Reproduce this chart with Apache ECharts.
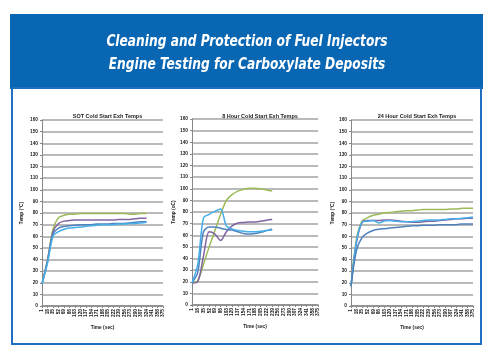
<!DOCTYPE html>
<html><head><meta charset="utf-8">
<script src="https://cdn.jsdelivr.net/npm/echarts@6/dist/echarts.min.js"></script>
<style>html,body{margin:0;padding:0;background:#fff}#c{width:500px;height:361px}</style>
</head><body><div id="c"></div>
<script>
// ---- data ----
const headerTitle1 = 'Cleaning and Protection of Fuel Injectors';
const headerTitle2 = 'Engine Testing for Carboxylate Deposits';
const chartTitles = ['SOT Cold Start Exh Temps', '8 Hour Cold Start Exh Temps', '24 Hour Cold Start Exh Temps'];
const yNames = ['Temp (°C)', 'Temp (oC)', 'Temp (°C)'];
const xName = 'Time (sec)';
const timeLabels = ['1','18','35','52','69','86','103','120','137','154','171','188','205','222','239','256','273','290','307','324','341','358','375'];
const yTicks = [0,10,20,30,40,50,60,70,80,90,100,110,120,130,140,150,160];

// SOT
const sotGreen  = [19,40,66,76,78,79,79,79.5,79.5,79.5,79.5,79.5,79.5,79.5,79.5,79.5,79,79,79.5,79.5];
const sotPurple = [19,39,64,71,73,73.5,74,74,74,74,74,74,74,74,74.5,74.5,74.5,75,75.5,75.5];
const sotBlue   = [19,38,62,67,68.5,69,69.5,70,70,70,70.5,70.5,70.5,71,71,71,71.5,72,72.5,72.5];
const sotSky    = [19,37,60,64,66,67,67.5,68,68.5,69,69.5,70,70,70,70.5,70.5,71,71,71.5,72];
// 8 hour
const h8Green  = [19,21,35,50,64,78,90,95,98,99.5,100.5,100.5,100,99,98];
const h8Purple = [19,20,42,63,61,55.5,63,68,70.5,71,71.5,71.5,72,73,73.5];
const h8Blue   = [19,28,63,67,67,66,65,64.5,63,61.5,61,61.5,62.5,64,65.5];
const h8Sky    = [19,35,75,78,80.5,82.5,68,65.5,64,63.5,63,63,63.5,64,64.5];
// 24 hour
const h24Green  = [17,58,73,76,78,79,80,80.5,81,81.5,82,82,82.5,83,83,83,83,83,83.5,83.5,84,84,84];
const h24Purple = [17,55,72,73.5,73.5,73.5,74,74,73.5,73,72.5,72,72,72.5,73,73,73.5,74,74.5,75,75,75.5,75.5];
const h24Sky    = [17,56,72,73,73.5,71.5,73,73.5,73,72.5,72.5,72.5,73,73.5,74,74,74,74.5,75,75,75.5,76,76.5];
const h24Blue   = [17,48,59,63,65,66,66.5,67,67.5,68,68.5,69,69,69.5,69.5,69.5,70,70,70,70,70.5,70.5,70.5];

const colors = {green:'#9BBB59', purple:'#8064A2', blue:'#4F81BD', sky:'#45AEE8'};

const grids = [
  {left:42, width:121, top:120, height:186},
  {left:192, width:126, top:119, height:186},
  {left:351, width:122, top:120, height:186}
];
const yNameGaps = [18, 14, 12];
const chartData = [
  [sotGreen, sotPurple, sotBlue, sotSky],
  [h8Green, h8Purple, h8Blue, h8Sky],
  [h24Green, h24Purple, h24Sky, h24Blue]
];
const chartColors = [
  [colors.green, colors.purple, colors.blue, colors.sky],
  [colors.green, colors.purple, colors.blue, colors.sky],
  [colors.green, colors.purple, colors.sky, colors.blue]
];

const lbl = {fontSize:4.8, fontWeight:'bold', color:'#222', fontFamily:'Liberation Sans'};
const headFont = {fill:'#fff', fontSize:16, fontStyle:'italic', fontWeight:'bold',
  fontFamily:'"DejaVu Sans Condensed","Liberation Sans Narrow",sans-serif', align:'center', verticalAlign:'middle'};
const option = {
  animation:false,
  title: chartTitles.map((t,i)=>({
     text:t, left: grids[i].left + grids[i].width/2, top:108, textAlign:'center',
     textStyle:{fontSize:5.5, fontWeight:'bold', color:'#222', fontFamily:'Liberation Sans'}})),
  graphic: [
    {type:'rect', shape:{x:10, y:14, width:473, height:75}, style:{fill:'#0866B2'}, z:-10},
    {type:'rect', shape:{x:12, y:88, width:469, height:256}, style:{fill:'#fff', stroke:'#1E6FC0', lineWidth:2}, z:-10},
    {type:'text', x:247, y:42, scaleX:0.85, style:Object.assign({text:headerTitle1}, headFont)},
    {type:'text', x:247, y:65, scaleX:0.85, style:Object.assign({text:headerTitle2}, headFont)}
  ],
  grid: grids,
  xAxis: grids.map((g,i)=>({
    type:'category', gridIndex:i, data:timeLabels, boundaryGap:false,
    name:xName, nameLocation:'middle', nameGap:18, nameTextStyle:lbl,
    axisLine:{lineStyle:{color:'#888', width:1.5}},
    axisTick:{show:true, lineStyle:{color:'#888'}, length:2},
    axisLabel:Object.assign({rotate:90, interval:0, margin:3}, lbl),
    splitLine:{show:false}
  })),
  yAxis: grids.map((g,i)=>({
    type:'value', gridIndex:i, min:0, max:160, interval:10,
    name:yNames[i], nameLocation:'middle', nameGap:yNameGaps[i], nameRotate:90, nameTextStyle:lbl,
    axisLine:{show:true, lineStyle:{color:'#888', width:1}},
    axisTick:{show:true, length:2, lineStyle:{color:'#888'}},
    axisLabel:Object.assign({margin:4}, lbl),
    splitLine:{lineStyle:{color:'#a3a3a3', width:1.5}}
  })),
  series: []
};
chartData.forEach((arr,i)=>{
  arr.forEach((d,j)=>{
    option.series.push({type:'line', xAxisIndex:i, yAxisIndex:i, data:d, showSymbol:false, smooth:0.3,
      lineStyle:{color:chartColors[i][j], width:1.5}, itemStyle:{color:chartColors[i][j]}});
  });
});
const chart = echarts.init(document.getElementById('c'), null, {renderer:'canvas'});
chart.setOption(option);
</script></body></html>
